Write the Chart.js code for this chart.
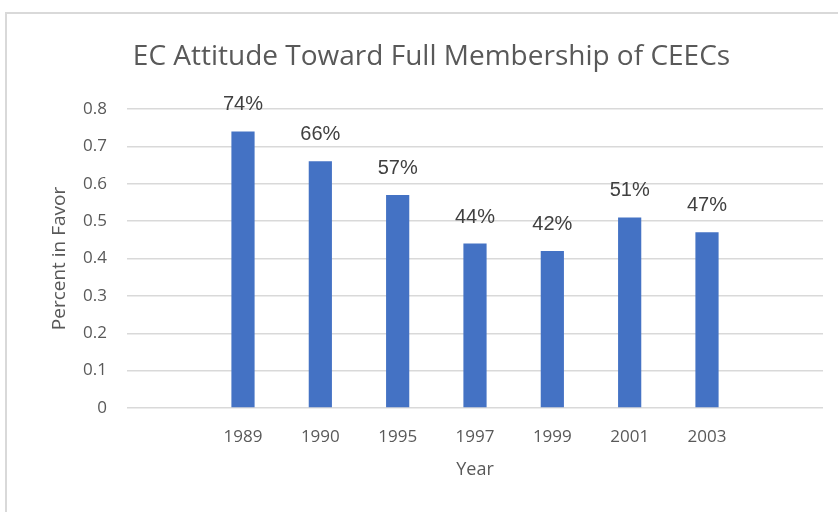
<!DOCTYPE html>
<html>
<head>
<meta charset="utf-8">
<script src="https://cdn.jsdelivr.net/npm/chart.js@4"></script>
<style>
  body { margin: 0; background: #fff; }
  #frame { position: absolute; left: 5px; top: 12px; width: 860px; height: 520px; border: 2px solid #d9d9d9; }
  #wrap { position: absolute; left: 0; top: 0; width: 838px; height: 512px; }
</style>
</head>
<body>
<div id="frame"></div>
<div id="wrap"><canvas id="grafica" width="838" height="512"></canvas></div>
<script>
// Datos
const years = ['1989', '1990', '1995', '1997', '1999', '2001', '2003'];
const inFavor = [0.74, 0.66, 0.57, 0.44, 0.42, 0.51, 0.47];
const yTicks = [0, 0.1, 0.2, 0.3, 0.4, 0.5, 0.6, 0.7, 0.8];

// Excel deja una categoría vacía a cada lado
const labels = [''].concat(years, ['']);
const data = [null].concat(inFavor, [null]);

const textColor = '#595959';
const fuente = '"Open Sans"';

// Etiquetas de porcentaje encima de cada barra
const etiquetas = {
  id: 'etiquetas',
  afterDatasetsDraw(chart) {
    const ctx = chart.ctx;
    const meta = chart.getDatasetMeta(0);
    ctx.save();
    ctx.font = '20px "Liberation Sans", Arial, sans-serif';
    ctx.fillStyle = '#404040';
    ctx.textAlign = 'center';
    ctx.textBaseline = 'alphabetic';
    meta.data.forEach((bar, i) => {
      const v = data[i];
      if (v === null) return;
      ctx.fillText(Math.round(v * 100) + '%', bar.x, bar.y - 21);
    });
    ctx.restore();
  }
};

new Chart(document.getElementById('grafica').getContext('2d'), {
  type: 'bar',
  data: {
    labels: labels,
    datasets: [{
      data: data,
      backgroundColor: '#4472C4',
      barPercentage: 0.3,
      categoryPercentage: 1
    }]
  },
  options: {
    responsive: false,
    animation: false,
    layout: { padding: { left: 40, right: 15, top: 0, bottom: 0 } },
    plugins: {
      legend: { display: false },
      tooltip: { enabled: false },
      title: {
        display: true,
        text: 'EC Attitude Toward Full Membership of CEECs',
        color: textColor,
        font: { family: fuente, size: 28, weight: 'normal' },
        padding: { top: 40, bottom: 35.4 }
      }
    },
    scales: {
      x: {
        grid: { display: false, drawTicks: false },
        border: { display: false },
        ticks: { color: textColor, font: { family: fuente, size: 17 }, padding: 19, maxRotation: 0 },
        title: {
          display: true,
          text: 'Year',
          color: textColor,
          font: { family: fuente, size: 18 },
          padding: { top: 0, bottom: 31 }
        },
        afterFit(scale) { scale.height = 104; }
      },
      y: {
        min: 0,
        max: 0.8,
        afterBuildTicks(scale) { scale.ticks = yTicks.map(v => ({ value: v })); },
        grid: { color: '#d9d9d9', lineWidth: 1.5, drawTicks: false },
        border: { display: false },
        ticks: { color: textColor, font: { family: fuente, size: 17 }, padding: 20 },
        title: {
          display: true,
          text: 'Percent in Favor',
          color: textColor,
          font: { family: fuente, size: 19 },
          padding: { top: 8.6, bottom: 0 }
        },
        afterFit(scale) { scale.width = 87; }
      }
    }
  },
  plugins: [etiquetas]
});
</script>
</body>
</html>
